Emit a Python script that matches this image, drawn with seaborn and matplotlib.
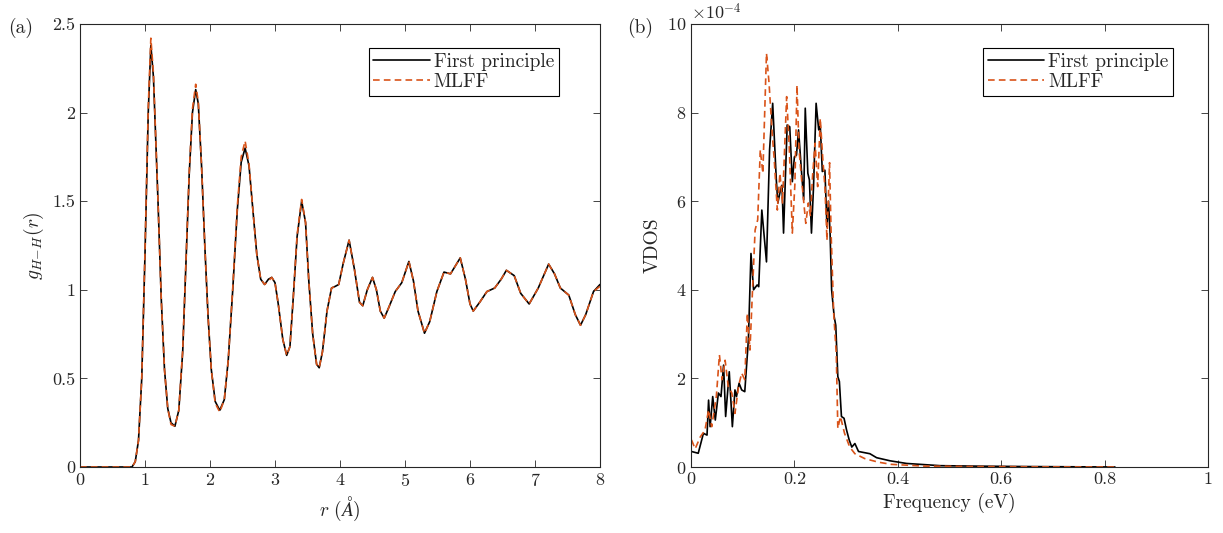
import numpy as np
import pandas as pd
import matplotlib
matplotlib.use('Agg')
import matplotlib.pyplot as plt
import seaborn as sns

# (a) radial distribution function g_HH(r)
r_vals = [0.0, 0.4, 0.7, 0.8, 0.85, 0.9, 0.95, 1.0, 1.05, 1.09, 1.13, 1.2, 1.25, 1.3, 1.35, 1.4,
          1.46, 1.52, 1.58, 1.63, 1.68, 1.73, 1.78, 1.82, 1.87, 1.92, 1.97, 2.02, 2.08, 2.15,
          2.22, 2.28, 2.35, 2.42, 2.48, 2.54, 2.60, 2.66, 2.72, 2.78, 2.84, 2.90, 2.95, 3.0,
          3.05, 3.12, 3.18, 3.23, 3.28, 3.34, 3.41, 3.47, 3.52, 3.58, 3.64, 3.68, 3.73, 3.80,
          3.87, 3.93, 3.98, 4.05, 4.14, 4.22, 4.30, 4.35, 4.42, 4.50, 4.56, 4.62, 4.68, 4.75,
          4.85, 4.95, 5.06, 5.13, 5.20, 5.30, 5.38, 5.49, 5.60, 5.70, 5.85, 5.93, 6.00, 6.05,
          6.15, 6.26, 6.38, 6.48, 6.56, 6.68, 6.78, 6.91, 7.05, 7.21, 7.30, 7.39, 7.52, 7.62,
          7.70, 7.78, 7.90, 8.00]
g_fp = [0, 0, 0, 0.0, 0.03, 0.15, 0.5, 1.2, 2.0, 2.38, 2.2, 1.5, 0.95, 0.55, 0.33, 0.25,
        0.23, 0.32, 0.65, 1.15, 1.65, 2.0, 2.13, 2.05, 1.7, 1.25, 0.85, 0.55, 0.37, 0.32,
        0.38, 0.6, 1.0, 1.45, 1.72, 1.80, 1.70, 1.45, 1.2, 1.06, 1.03, 1.06, 1.07, 1.04,
        0.92, 0.72, 0.63, 0.68, 0.95, 1.3, 1.50, 1.38, 1.05, 0.75, 0.58, 0.56, 0.65, 0.88,
        1.01, 1.02, 1.03, 1.15, 1.28, 1.12, 0.93, 0.91, 1.0, 1.07, 1.0, 0.88, 0.84, 0.9,
        0.99, 1.04, 1.16, 1.05, 0.88, 0.755, 0.82, 0.99, 1.10, 1.09, 1.18, 1.06, 0.92, 0.88,
        0.93, 0.99, 1.01, 1.06, 1.11, 1.08, 0.98, 0.92, 1.01, 1.145, 1.09, 1.01, 0.97, 0.86,
        0.80, 0.86, 0.99, 1.03]
g_ml = [0, 0, 0, 0.0, 0.03, 0.15, 0.5, 1.22, 2.03, 2.42, 2.22, 1.5, 0.95, 0.55, 0.33, 0.24,
        0.23, 0.32, 0.66, 1.16, 1.66, 2.02, 2.16, 2.06, 1.7, 1.25, 0.85, 0.55, 0.36, 0.31,
        0.38, 0.6, 1.01, 1.47, 1.75, 1.84, 1.71, 1.45, 1.2, 1.06, 1.03, 1.05, 1.07, 1.04,
        0.92, 0.72, 0.63, 0.68, 0.95, 1.31, 1.51, 1.38, 1.05, 0.75, 0.58, 0.56, 0.65, 0.88,
        1.01, 1.02, 1.03, 1.15, 1.28, 1.12, 0.93, 0.91, 1.0, 1.07, 1.0, 0.88, 0.84, 0.9,
        0.99, 1.04, 1.16, 1.05, 0.88, 0.755, 0.82, 0.99, 1.10, 1.09, 1.18, 1.06, 0.92, 0.88,
        0.93, 0.99, 1.01, 1.06, 1.11, 1.08, 0.98, 0.92, 1.01, 1.145, 1.09, 1.01, 0.97, 0.86,
        0.80, 0.86, 0.99, 1.02]

# (b) vibrational density of states, in units of 1e-4
f_fp = [0.001, 0.014, 0.024, 0.031, 0.034, 0.037, 0.042, 0.047, 0.053, 0.058, 0.063, 0.067,
        0.074, 0.080, 0.085, 0.088, 0.093, 0.098, 0.104, 0.111, 0.116, 0.121, 0.128, 0.131,
        0.137, 0.146, 0.152, 0.158, 0.165, 0.168, 0.173, 0.176, 0.179, 0.186, 0.191, 0.196,
        0.200, 0.204, 0.208, 0.214, 0.218, 0.221, 0.226, 0.229, 0.233, 0.237, 0.242, 0.247,
        0.250, 0.254, 0.259, 0.263, 0.266, 0.269, 0.272, 0.277, 0.280, 0.284, 0.287, 0.291,
        0.296, 0.301, 0.306, 0.311, 0.317, 0.324, 0.346, 0.359, 0.385, 0.417, 0.482, 0.55,
        0.65, 0.82]
v_fp = [0.35, 0.31, 0.76, 0.72, 1.51, 0.91, 1.59, 1.06, 1.67, 1.59, 2.30, 1.14,
        2.15, 0.91, 1.74, 1.59, 1.89, 1.74, 1.70, 2.87, 4.82, 4.0, 4.11, 4.07,
        5.80, 4.63, 7.16, 8.21, 6.48, 5.96, 6.25, 6.36, 5.28, 7.72, 7.68, 6.44,
        7.0, 7.04, 7.61, 6.63, 6.03, 8.10, 6.63, 6.48, 5.28, 6.33, 8.21, 7.61,
        7.72, 6.67, 6.70, 5.42, 6.0, 5.28, 4.0, 3.39, 3.20, 2.04, 1.93, 1.14,
        1.10, 0.83, 0.61, 0.45, 0.53, 0.35, 0.30, 0.21, 0.14, 0.08, 0.03, 0.02,
        0.01, 0.0]
f_ml = [0.001, 0.008, 0.018, 0.027, 0.034, 0.040, 0.049, 0.055, 0.060, 0.066, 0.072, 0.079,
        0.085, 0.092, 0.098, 0.104, 0.109, 0.114, 0.119, 0.124, 0.129, 0.134, 0.139, 0.146,
        0.151, 0.157, 0.161, 0.167, 0.172, 0.177, 0.185, 0.190, 0.196, 0.201, 0.205, 0.209,
        0.214, 0.222, 0.227, 0.231, 0.235, 0.240, 0.245, 0.250, 0.255, 0.259, 0.263, 0.268,
        0.271, 0.276, 0.281, 0.284, 0.289, 0.297, 0.307, 0.317, 0.336, 0.362, 0.387, 0.451,
        0.55, 0.65, 0.82]
v_ml = [0.61, 0.41, 0.68, 0.83, 1.29, 0.91, 1.59, 2.53, 1.97, 2.41, 1.82, 1.67,
        1.21, 1.82, 2.12, 1.97, 3.47, 2.64, 4.0, 5.35, 5.58, 7.16, 6.63, 9.34,
        8.66, 7.54, 6.94, 5.80, 6.63, 5.96, 8.36, 7.24, 5.28, 6.40, 8.62, 7.16,
        6.48, 5.50, 5.96, 5.66, 6.55, 7.31, 6.33, 7.87, 6.94, 6.33, 5.12, 6.87,
        5.28, 3.47, 2.56, 0.87, 1.14, 0.76, 0.45, 0.30, 0.19, 0.11, 0.06, 0.02,
        0.01, 0.005, 0.0]

series = ['First principle', 'MLFF']
colors = ['black', '#D95319']

sns.set_style('ticks')
plt.rcParams['font.family'] = 'serif'
plt.rcParams['font.serif'] = ['cmr10', 'DejaVu Serif']
plt.rcParams['mathtext.fontset'] = 'cm'
plt.rcParams['axes.formatter.use_mathtext'] = True
plt.rcParams['xtick.direction'] = 'in'
plt.rcParams['ytick.direction'] = 'in'
plt.rcParams['xtick.top'] = True
plt.rcParams['ytick.right'] = True

df_a = pd.concat([
    pd.DataFrame({'r': r_vals, 'g': g_fp, 'src': series[0]}),
    pd.DataFrame({'r': r_vals, 'g': g_ml, 'src': series[1]}),
])
df_b = pd.concat([
    pd.DataFrame({'f': f_fp, 'v': v_fp, 'src': series[0]}),
    pd.DataFrame({'f': f_ml, 'v': v_ml, 'src': series[1]}),
])

fig = plt.figure(figsize=(12.23, 5.33), dpi=100)
ax1 = fig.add_axes([80 / 1223, 1 - 467 / 533, 520 / 1223, 443 / 533])
ax2 = fig.add_axes([691 / 1223, 1 - 467 / 533, 517 / 1223, 443 / 533])

palette = dict(zip(series, colors))
dashes = {series[0]: '', series[1]: (4, 2.5)}

sns.lineplot(data=df_a, x='r', y='g', hue='src', style='src', palette=palette,
             dashes=dashes, estimator=None, sort=False, linewidth=1.2, ax=ax1)
sns.lineplot(data=df_b, x='f', y='v', hue='src', style='src', palette=palette,
             dashes=dashes, estimator=None, sort=False, linewidth=1.2, ax=ax2)

ax1.set_xlim(0, 8)
ax1.set_ylim(0, 2.5)
ax1.set_xticks(range(0, 9))
ax1.set_yticks([0, 0.5, 1, 1.5, 2, 2.5])
ax1.set_yticklabels(['0', '0.5', '1', '1.5', '2', '2.5'])
ax1.set_xlabel(r'$r\ (\AA)$', fontsize=14)
ax1.set_ylabel(r'$g_{H\!-\!H}(r)$', fontsize=14)

ax2.set_xlim(0, 1)
ax2.set_ylim(0, 10)
ax2.set_xticks([0, 0.2, 0.4, 0.6, 0.8, 1])
ax2.set_xticklabels(['0', '0.2', '0.4', '0.6', '0.8', '1'])
ax2.set_yticks(range(0, 11, 2))
ax2.text(0, 1.003, r'$\times 10^{-4}$', transform=ax2.transAxes, fontsize=13,
         ha='left', va='bottom')
ax2.set_xlabel('Frequency (eV)', fontsize=14)
ax2.set_ylabel('VDOS', fontsize=14)

for ax, lx in [(ax1, 0.555), (ax2, 0.565)]:
    ax.tick_params(labelsize=13, length=5, width=0.6, colors='#262626')
    for s in ax.spines.values():
        s.set_linewidth(0.8)
        s.set_color('#262626')
    leg = ax.legend(loc='upper left', bbox_to_anchor=(lx, 0.945), fontsize=14,
                    frameon=True, fancybox=False, framealpha=1, edgecolor='black',
                    handlelength=2.9, handletextpad=0.2, borderpad=0.25,
                    labelspacing=0.1, borderaxespad=0)
    leg.get_frame().set_linewidth(0.8)

fig.text(8 / 1223, 1 - 28 / 533, '(a)', fontsize=14, va='center', ha='left')
fig.text(627 / 1223, 1 - 28 / 533, '(b)', fontsize=14, va='center', ha='left')

fig.savefig('out.png', dpi=100)
